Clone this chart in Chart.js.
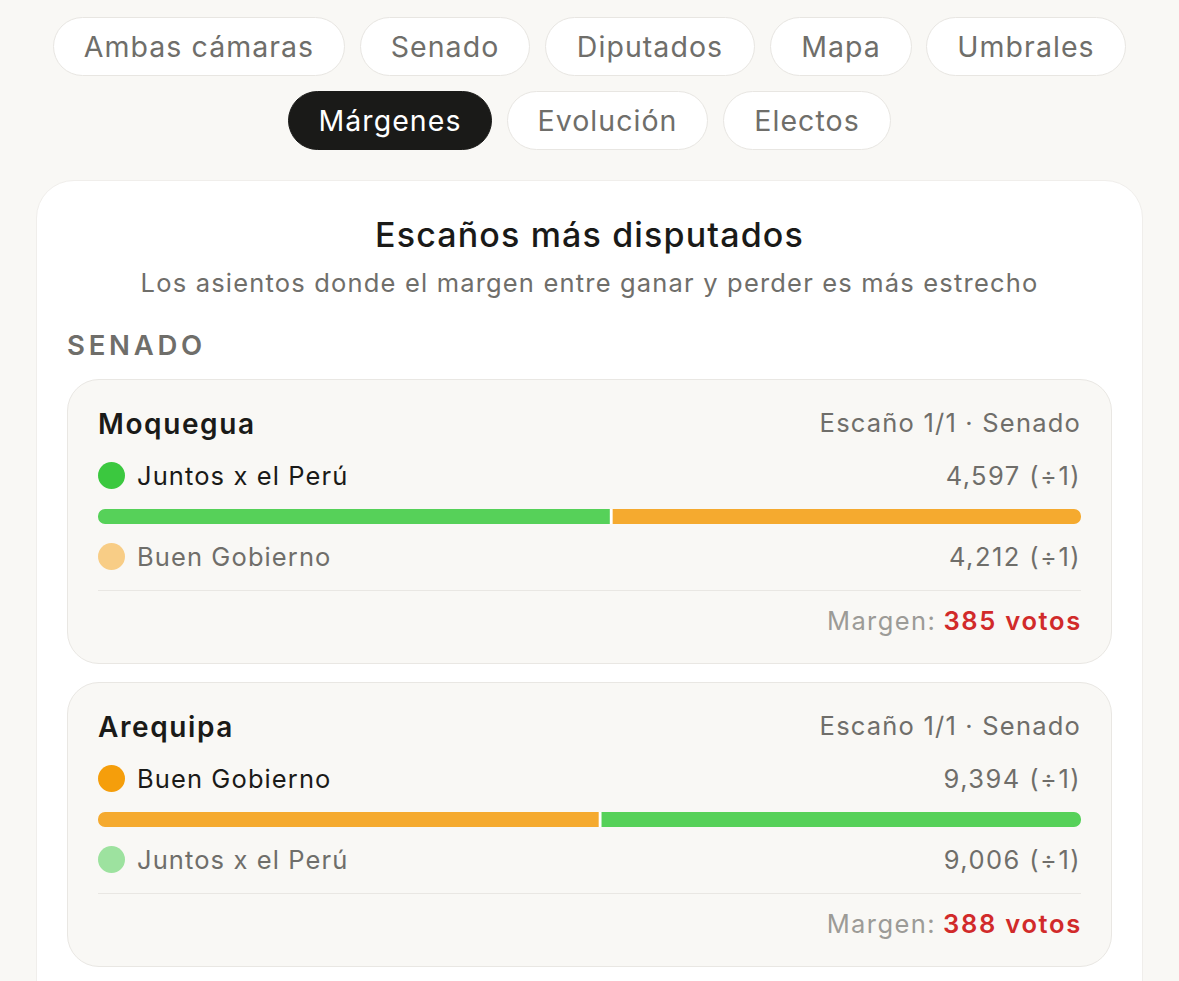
<!DOCTYPE html>
<html lang="es">
<head>
<meta charset="utf-8">
<title>Escaños más disputados</title>
<script src="https://cdn.jsdelivr.net/npm/chart.js@4"></script>
<style>
html, body { margin: 0; padding: 0; width: 1179px; height: 981px; overflow: hidden; background: #f9f8f5; }
body { font-family: Inter, sans-serif; color: #1a1a18; position: relative; }
.abs { position: absolute; white-space: nowrap; }
.pill { position: absolute; height: 57px; line-height: 57px; box-sizing: content-box; border: 1px solid #e8e6e2; border-radius: 30px; background: #fff; color: #6f6e6a; text-align: center; font-size: 28.5px; letter-spacing: 1.05px; }
.pill.active { background: #1a1a18; border-color: #1a1a18; color: #fff; }
#panel { position: absolute; left: 36px; top: 180px; width: 1107px; height: 840px; background: #fff; border: 1px solid #f0eeeb; border-radius: 38px; box-sizing: border-box; }
.card { position: absolute; left: 67px; width: 1045px; height: 285px; box-sizing: border-box; background: #f9f8f5; border: 1px solid #e9e7e3; border-radius: 32px; }
.dot { position: absolute; width: 27px; height: 27px; border-radius: 50%; }
canvas { position: absolute; }
</style>
</head>
<body>
<div id="panel"></div>
<div class="abs" style="left:0;width:1179px;top:214px;text-align:center;font-size:34px;font-weight:500;line-height:41px;letter-spacing:1.15px">Escaños más disputados</div>
<div class="abs" style="left:0;width:1179px;top:267px;text-align:center;font-size:25.5px;line-height:32px;color:#6f6e6a;letter-spacing:1.18px">Los asientos donde el margen entre ganar y perder es más estrecho</div>
<div class="abs" style="left:67px;top:329px;font-size:27.5px;font-weight:600;line-height:32px;color:#6f6e6a;letter-spacing:3.75px">SENADO</div>
<div id="root"></div>

<script>
// Tabs at the top, first row and second row
const tabLabels = ['Ambas cámaras', 'Senado', 'Diputados', 'Mapa', 'Umbrales', 'Márgenes', 'Evolución', 'Electos'];
const tabLefts = [53, 360, 545, 770, 926, 288, 507, 723];
const tabWidths = [292, 170, 210, 142, 200, 204, 201, 168];
const tabTops = [17, 17, 17, 17, 17, 91, 91, 91];
const activeTab = 'Márgenes';

// Closest seats
const regions = ['Moquegua', 'Arequipa'];
const seatLabels = ['Escaño 1/1 · Senado', 'Escaño 1/1 · Senado'];
const winnerNames = ['Juntos x el Perú', 'Buen Gobierno'];
const winnerVotes = [4597, 9394];
const runnerNames = ['Buen Gobierno', 'Juntos x el Perú'];
const runnerVotes = [4212, 9006];
const margins = [385, 388];

const partyColors = { 'Juntos x el Perú': '#3bc83f', 'Buen Gobierno': '#f59e0b' };
const barColors = { 'Juntos x el Perú': '#56d159', 'Buen Gobierno': '#f5aa2f' };
const fadedColors = { 'Juntos x el Perú': '#9de29f', 'Buen Gobierno': '#f8cd86' };

const root = document.getElementById('root');

function addText(text, left, top, css, rightEdge) {
    const el = document.createElement('div');
    el.className = 'abs';
    el.innerHTML = text;
    el.style.cssText += css;
    el.style.top = top + 'px';
    if (rightEdge) el.style.right = (1179 - rightEdge) + 'px';
    else el.style.left = left + 'px';
    root.appendChild(el);
}

tabLabels.forEach((label, i) => {
    const pill = document.createElement('div');
    pill.className = 'pill' + (label === activeTab ? ' active' : '');
    pill.textContent = label;
    pill.style.left = tabLefts[i] + 'px';
    pill.style.top = tabTops[i] + 'px';
    pill.style.width = (tabWidths[i] - 2) + 'px';
    root.appendChild(pill);
});

function fmt(n) {
    return n.toLocaleString('en-US');
}

regions.forEach((region, i) => {
    const y = 379 + i * 303;

    const card = document.createElement('div');
    card.className = 'card';
    card.style.top = y + 'px';
    root.appendChild(card);

    addText(region, 98, y + 28, 'font-size:28px;font-weight:600;line-height:34px;letter-spacing:1.6px');
    addText(seatLabels[i], 0, y + 29, 'font-size:25.5px;line-height:30px;color:#6f6e6a;letter-spacing:1.2px', 1081);

    const d1 = document.createElement('div');
    d1.className = 'dot';
    d1.style.cssText = `left:98px;top:${y + 83}px;background:${partyColors[winnerNames[i]]}`;
    root.appendChild(d1);
    addText(winnerNames[i], 137, y + 81, 'font-size:25.5px;line-height:31px;letter-spacing:1.1px');
    addText(fmt(winnerVotes[i]) + ' (÷1)', 0, y + 81, 'font-size:25.5px;line-height:31px;color:#6f6e6a;letter-spacing:1.45px', 1081);

    const d2 = document.createElement('div');
    d2.className = 'dot';
    d2.style.cssText = `left:98px;top:${y + 164}px;background:${fadedColors[runnerNames[i]]}`;
    root.appendChild(d2);
    addText(runnerNames[i], 137, y + 162, 'font-size:25.5px;line-height:31px;color:#6f6e6a;letter-spacing:1.1px');
    addText(fmt(runnerVotes[i]) + ' (÷1)', 0, y + 162, 'font-size:25.5px;line-height:31px;color:#6f6e6a;letter-spacing:1.45px', 1081);

    const rule = document.createElement('div');
    rule.className = 'abs';
    rule.style.cssText = `left:98px;top:${y + 211}px;width:983px;height:1px;background:#e9e7e3`;
    root.appendChild(rule);

    addText(`<span style="color:#9c9b97;font-weight:400;letter-spacing:1.4px">Margen:</span> <span style="color:#d12a2a;font-weight:600;letter-spacing:1.7px">${margins[i]} votos</span>`, 0, y + 226, 'font-size:25.5px;line-height:31px', 1082);

    const canvas = document.createElement('canvas');
    canvas.style.left = '98px';
    canvas.style.top = (y + 130) + 'px';
    canvas.width = 983;
    canvas.height = 15;
    canvas.style.width = '983px';
    canvas.style.height = '15px';
    root.appendChild(canvas);

    new Chart(canvas.getContext('2d'), {
        type: 'bar',
        data: {
            labels: [region],
            datasets: [
                {
                    label: winnerNames[i],
                    data: [winnerVotes[i]],
                    backgroundColor: barColors[winnerNames[i]],
                    borderColor: '#ffffff',
                    borderWidth: { right: 1.5, left: 0, top: 0, bottom: 0 },
                    borderSkipped: false,
                    borderRadius: { topLeft: 7, bottomLeft: 7, topRight: 0, bottomRight: 0 }
                },
                {
                    label: runnerNames[i],
                    data: [runnerVotes[i]],
                    backgroundColor: barColors[runnerNames[i]],
                    borderColor: '#ffffff',
                    borderWidth: { left: 2, right: 0, top: 0, bottom: 0 },
                    borderSkipped: false,
                    borderRadius: { topLeft: 0, bottomLeft: 0, topRight: 7, bottomRight: 7 }
                }
            ]
        },
        options: {
            indexAxis: 'y',
            responsive: false,
            animation: false,
            barPercentage: 1,
            categoryPercentage: 1,
            layout: { padding: 0 },
            plugins: { legend: { display: false }, tooltip: { enabled: false } },
            scales: {
                x: { display: false, stacked: true, min: 0, max: winnerVotes[i] + runnerVotes[i] },
                y: { display: false, stacked: true }
            }
        }
    });
});
</script>
</body>
</html>
